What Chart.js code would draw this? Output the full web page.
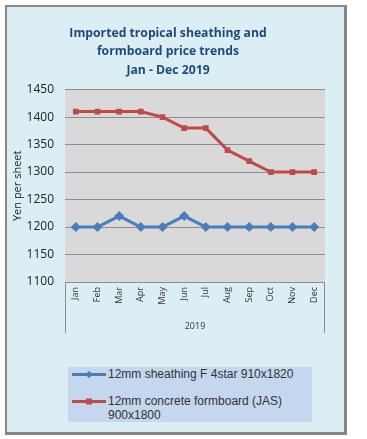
<!DOCTYPE html>
<html><head><meta charset="utf-8">
<script src="https://cdn.jsdelivr.net/npm/chart.js@4.4.1/dist/chart.umd.min.js"></script>
<style>
html,body{margin:0;padding:0;background:#fff;width:367px;height:439px;overflow:hidden;}
#frame{position:absolute;left:5px;top:5px;width:337px;height:425px;background:#DBEEF4;border-left:2px solid #8a8a8a;border-top:2px solid #8a8a8a;border-right:3px solid #858585;border-bottom:3px solid #858585;}
#c{position:absolute;left:0;top:0;}
#legend{position:absolute;left:68px;top:367px;width:244px;height:55px;background:#C5D7EF;font-family:"Liberation Sans",Arial,sans-serif;font-size:12px;color:#333;}
.item{position:absolute;left:4px;display:flex;align-items:flex-start;}
.item svg{flex:none;}
.item span{line-height:14px;margin-left:2px;}
</style></head>
<body>
<div id="frame"></div>
<canvas id="c" width="367" height="439"></canvas>
<div id="legend"></div>
<script>
const months = ["Jan","Feb","Mar","Apr","May","Jun","Jul","Aug","Sep","Oct","Nov","Dec"];
const yearLabel = "2019";
const sheathing = [1200,1200,1220,1200,1200,1220,1200,1200,1200,1200,1200,1200];
const formboard = [1410,1410,1410,1410,1400,1380,1380,1340,1320,1300,1300,1300];
const seriesNames = ["12mm sheathing F 4star 910x1820", "12mm concrete formboard (JAS) 900x1800"];
const titleLines = ["Imported tropical sheathing and", "formboard price trends", "Jan - Dec 2019"];
const yTitle = "Yen per sheet";
const blue = "#4A7EBB", red = "#BE4B48";

const bgPlugin = {
  id: 'bg',
  beforeDraw(chart){
    const {ctx, chartArea:a} = chart;
    ctx.save();
    ctx.fillStyle = '#D9D9D9';
    ctx.fillRect(a.left, a.top, a.right-a.left, a.bottom-a.top);
    ctx.restore();
  },
  afterDraw(chart){
    const {ctx, chartArea:a} = chart;
    const xs = chart.scales.x;
    ctx.save();
    ctx.strokeStyle = '#8c8c8c';
    ctx.lineWidth = 1;
    ctx.beginPath();
    ctx.moveTo(Math.round(a.left)+0.5, a.bottom);
    ctx.lineTo(Math.round(a.left)+0.5, xs.bottom+1);
    ctx.moveTo(Math.round(a.right)-0.5, a.bottom);
    ctx.lineTo(Math.round(a.right)-0.5, xs.bottom+1);
    ctx.stroke();
    ctx.restore();
  }
};

new Chart(document.getElementById('c'), {
  type: 'line',
  data: {
    labels: months,
    datasets: [
      {label: seriesNames[0], data: sheathing, borderColor: blue, backgroundColor: blue, borderWidth: 3,
       pointStyle: 'rectRot', pointRadius: 5, pointBorderWidth: 0, tension: 0},
      {label: seriesNames[1], data: formboard, borderColor: red, backgroundColor: red, borderWidth: 3,
       pointStyle: 'rect', pointRadius: 4, pointBorderWidth: 0, tension: 0}
    ]
  },
  options: {
    responsive: false,
    animation: false,
    layout: {padding: {left: 11, right: 42, top: 0, bottom: 107}},
    plugins: {
      legend: {display: false},
      tooltip: {enabled: false},
      title: {
        display: true, text: titleLines, color: '#1F497D',
        font: {family: '"Open Sans", sans-serif', size: 12.2, weight: 'bold', lineHeight: 1.52},
        padding: {top: 24, bottom: 10}
      }
    },
    scales: {
      x: {
        offset: true,
        grid: {display: false, drawTicks: false},
        border: {display: false},
        ticks: {minRotation: 90, maxRotation: 90, autoSkip: false, padding: 5,
                color: '#333', font: {family: '"Open Sans", sans-serif', size: 9}},
        title: {display: true, text: yearLabel, color: '#333', padding: {top: 3, bottom: 0},
                font: {family: '"Open Sans", sans-serif', size: 9}},
        afterFit(s){ s.height = 50; }
      },
      y: {
        min: 1100, max: 1450,
        ticks: {stepSize: 50, color: '#222', padding: 11, callback: v => String(v),
                font: {family: '"Open Sans", sans-serif', size: 12}},
        grid: {color: '#8c8c8c', lineWidth: 1, drawTicks: false},
        border: {display: false},
        title: {display: true, text: yTitle, color: '#222', padding: {top: 0, bottom: 0},
                font: {family: '"Open Sans", sans-serif', size: 11}},
        afterFit(s){ s.width = 54; }
      }
    }
  },
  plugins: [bgPlugin]
});

// HTML legend
const lg = document.getElementById('legend');
const items = [
  {color: blue, marker: 'diamond', top: 0, lines: ["12mm sheathing F 4star 910x1820"]},
  {color: red, marker: 'square', top: 27, lines: ["12mm concrete formboard (JAS)", "900x1800"]}
];
items.forEach(it => {
  const d = document.createElement('div');
  d.className = 'item';
  d.style.top = it.top + 'px';
  const m = it.marker === 'diamond'
    ? '<polygon points="17,4 21,7.5 17,11 13,7.5" fill="'+it.color+'"/>'
    : '<rect x="14" y="4.5" width="6" height="6" fill="'+it.color+'"/>';
  d.innerHTML = '<svg width="34" height="15"><line x1="0" y1="7.5" x2="34" y2="7.5" stroke="'+it.color+'" stroke-width="3"/>'+m+'</svg><span>'+it.lines.join('<br>')+'</span>';
  lg.appendChild(d);
});
</script>
</body></html>
